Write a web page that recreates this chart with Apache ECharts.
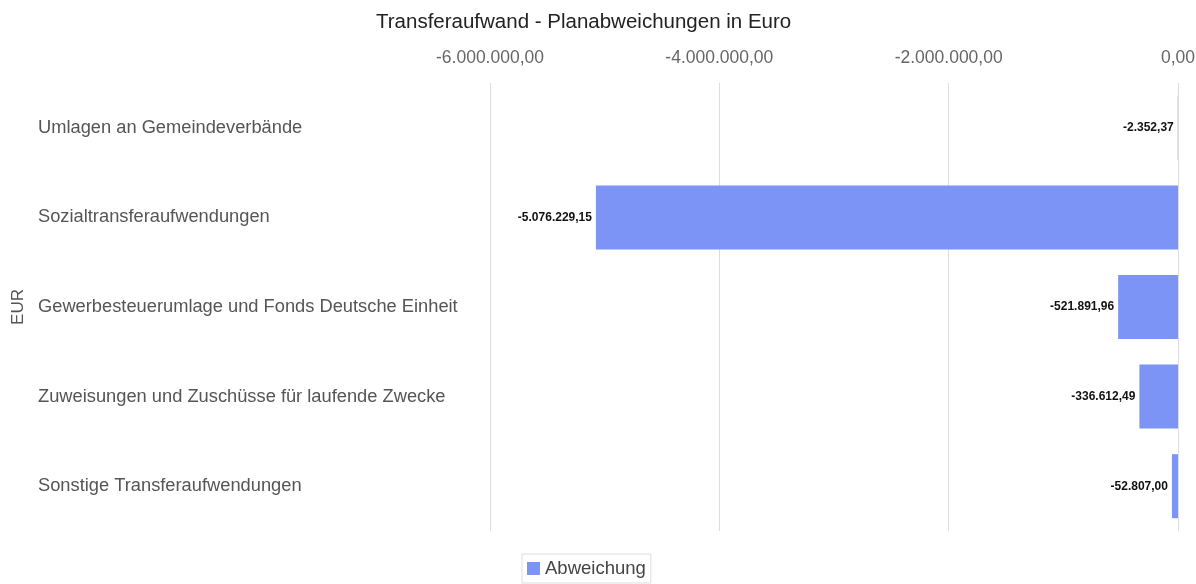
<!DOCTYPE html>
<html>
<head>
<meta charset="utf-8">
<script src="https://cdn.jsdelivr.net/npm/echarts@6/dist/echarts.min.js"></script>
<style>
  html, body { margin: 0; padding: 0; background: #fff; }
  #main { width: 1196px; height: 584px; }
</style>
</head>
<body>
<div id="main"></div>
<script>
var categories = [
    'Umlagen an Gemeindeverbände',
    'Sozialtransferaufwendungen',
    'Gewerbesteuerumlage und Fonds Deutsche Einheit',
    'Zuweisungen und Zuschüsse für laufende Zwecke',
    'Sonstige Transferaufwendungen'
];
var abweichung = [-2352.37, -5076229.15, -521891.96, -336612.49, -52807.00];
var xTicks = [-6000000, -4000000, -2000000, 0];

// deutsche Zahlenformatierung: 1.234.567,89
function fmt(v) {
    var neg = v < 0;
    var parts = Math.abs(v).toFixed(2).split('.');
    var intPart = parts[0].replace(/\B(?=(\d{3})+(?!\d))/g, '.');
    return (neg ? '-' : '') + intPart + ',' + parts[1];
}

var myChart = echarts.init(document.getElementById('main'));
var option = {
    animation: false,
    title: {
        text: 'Transferaufwand - Planabweichungen in Euro',
        left: 371,
        top: 7,
        textStyle: { color: '#222', fontSize: 20.5, fontWeight: 'normal', fontFamily: 'Liberation Sans' }
    },
    legend: {
        data: ['Abweichung'],
        left: 522,
        top: 554,
        padding: [5, 5],
        borderColor: '#ddd',
        borderWidth: 1,
        itemWidth: 13,
        itemHeight: 13,
        itemGap: 6,
        icon: 'rect',
        textStyle: { color: '#444', fontSize: 18.5, fontFamily: 'Liberation Sans' }
    },
    // Beschriftung "0,00" darf rechts abgeschnitten werden wie im Original
    grid: { left: 490, right: 18, top: 83, bottom: 53, outerBoundsMode: 'none', containLabel: false },
    xAxis: {
        type: 'value',
        position: 'top',
        min: xTicks[0],
        max: xTicks[xTicks.length - 1],
        interval: 2000000,
        axisLine: { show: false },
        axisTick: { show: false },
        splitLine: { lineStyle: { color: '#ddd' } },
        axisLabel: {
            color: '#666',
            fontSize: 17.5,
            margin: 16,
            fontFamily: 'Liberation Sans',
            formatter: function (v) { return fmt(v); }
        }
    },
    yAxis: {
        type: 'category',
        inverse: true,
        data: categories,
        name: 'EUR',
        nameLocation: 'middle',
        nameRotate: 90,
        nameGap: 461,
        nameTextStyle: { color: '#555', fontSize: 17, fontFamily: 'Liberation Sans' },
        axisLine: { show: false },
        axisTick: { show: false },
        splitLine: { show: false },
        axisLabel: {
            align: 'left',
            margin: 452,
            color: '#555',
            fontSize: 18.3,
            fontFamily: 'Liberation Sans'
        }
    },
    series: [
        {
            name: 'Abweichung',
            type: 'bar',
            data: abweichung,
            barWidth: 64,
            itemStyle: { color: '#7c94f5' },
            label: {
                show: true,
                position: 'left',
                distance: 4,
                color: '#111',
                fontSize: 12,
                fontWeight: 'bold',
                fontFamily: 'Liberation Sans',
                formatter: function (p) { return fmt(p.value); }
            }
        }
    ]
};
myChart.setOption(option, true);
</script>
</body>
</html>
